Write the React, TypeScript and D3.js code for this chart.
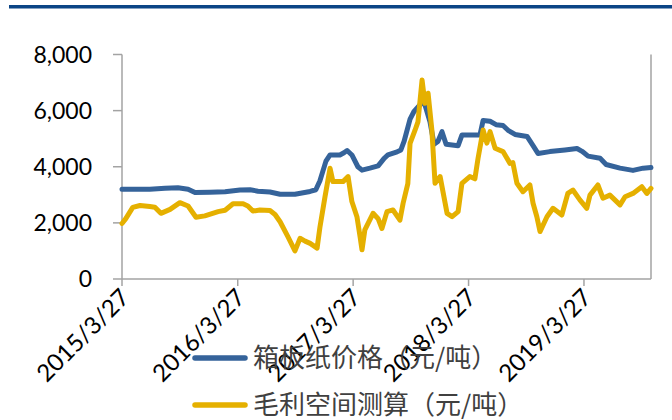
import React from "react";
import * as d3 from "d3";

// 箱板纸价格（元/吨）
const priceDates = [
  "2015-03-27", "2015-06-23", "2015-08-10", "2015-09-20", "2015-10-22", "2015-11-13",
  "2015-12-30", "2016-02-16", "2016-04-03", "2016-05-05", "2016-05-30", "2016-07-07",
  "2016-08-08", "2016-09-24", "2016-11-11", "2016-11-29", "2016-12-12", "2016-12-31",
  "2017-01-13", "2017-02-13", "2017-02-26", "2017-03-08", "2017-03-23", "2017-04-11",
  "2017-04-24", "2017-05-19", "2017-06-14", "2017-07-03", "2017-07-15", "2017-08-13",
  "2017-08-25", "2017-09-04", "2017-09-23", "2017-10-05", "2017-10-24", "2017-11-06",
  "2017-11-25", "2017-12-08", "2017-12-20", "2018-01-02", "2018-01-15", "2018-02-22",
  "2018-03-06", "2018-05-02", "2018-05-12", "2018-06-03", "2018-06-22", "2018-07-14",
  "2018-07-30", "2018-08-21", "2018-09-28", "2018-10-17", "2018-11-02", "2018-12-09",
  "2019-01-26", "2019-03-05", "2019-03-21", "2019-04-09", "2019-05-17", "2019-06-05",
  "2019-07-19", "2019-08-29", "2019-09-30", "2019-10-25",
];
const priceValues = [
  3200, 3200, 3230, 3250, 3200, 3080,
  3090, 3110, 3170, 3180, 3130, 3100,
  3020, 3020, 3120, 3180, 3500, 4200,
  4420, 4420, 4500, 4580, 4420, 4000,
  3880, 3950, 4030, 4300, 4420, 4530,
  4600, 4900, 5700, 5960, 6200, 6320,
  5600, 4800, 4900, 5250, 4800, 4750,
  5130, 5130, 5650, 5620, 5500, 5470,
  5300, 5150, 5080, 4750, 4470, 4540,
  4600, 4650, 4550, 4380, 4300, 4080,
  3950, 3870, 3950, 3970,
];

// 毛利空间测算（元/吨）
const marginDates = [
  "2015-03-27", "2015-04-08", "2015-04-30", "2015-05-23", "2015-06-23", "2015-07-09",
  "2015-07-28", "2015-08-26", "2015-09-26", "2015-10-22", "2015-11-16", "2015-12-14",
  "2016-01-25", "2016-02-16", "2016-03-12", "2016-04-13", "2016-04-28", "2016-05-14",
  "2016-06-05", "2016-07-07", "2016-07-23", "2016-08-08", "2016-09-02", "2016-09-24",
  "2016-10-10", "2016-10-26", "2016-11-11", "2016-12-03", "2016-12-12", "2016-12-28",
  "2017-01-13", "2017-01-22", "2017-02-23", "2017-03-11", "2017-03-23", "2017-04-08",
  "2017-04-18", "2017-04-24", "2017-05-03", "2017-05-29", "2017-06-14", "2017-06-26",
  "2017-07-12", "2017-07-31", "2017-08-22", "2017-09-01", "2017-09-16", "2017-09-23",
  "2017-10-09", "2017-10-18", "2017-10-31", "2017-11-09", "2017-11-19", "2017-12-01",
  "2017-12-11", "2017-12-27", "2018-01-18", "2018-02-03", "2018-02-22", "2018-03-06",
  "2018-03-31", "2018-04-16", "2018-04-26", "2018-05-12", "2018-05-24", "2018-06-03",
  "2018-06-19", "2018-07-14", "2018-08-05", "2018-08-14", "2018-08-27", "2018-09-15",
  "2018-10-07", "2018-10-17", "2018-10-29", "2018-11-08", "2018-11-30", "2018-12-19",
  "2019-01-16", "2019-02-04", "2019-02-20", "2019-03-14", "2019-04-05", "2019-04-15",
  "2019-05-10", "2019-05-26", "2019-06-17", "2019-07-19", "2019-08-04", "2019-08-29",
  "2019-09-26", "2019-10-12", "2019-10-25",
];
const marginValues = [
  1980, 2150, 2550, 2620, 2580, 2560,
  2340, 2480, 2720, 2600, 2200, 2250,
  2400, 2450, 2680, 2680, 2600, 2420,
  2460, 2440, 2300, 2040, 1500, 1000,
  1450, 1350, 1270, 1100, 1850, 2930,
  3950, 3470, 3470, 3650, 2760, 2220,
  1500, 1040, 1750, 2340, 2150, 1800,
  2400, 2460, 2100, 2700, 3400, 4830,
  5310, 5600, 7090, 6260, 6620, 5310,
  3410, 3650, 2340, 2220, 2400, 3410,
  3650, 3570, 4300, 5310, 4840, 5250,
  4660, 4540, 4120, 4150, 3410, 3110,
  3350, 2700, 2220, 1690, 2220, 2520,
  2280, 3050, 3170, 2820, 2520, 2990,
  3350, 2880, 2990, 2640, 2930, 3050,
  3290, 3050, 3230,
];

const yTicks = [0, 2000, 4000, 6000, 8000];
const xTickLabels = ["2015/3/27", "2016/3/27", "2017/3/27", "2018/3/27", "2019/3/27"];
const seriesNames = ["箱板纸价格（元/吨）", "毛利空间测算（元/吨）"];

const W = 672;
const H = 420;
const plot = { left: 122, right: 651, top: 54.5, bottom: 279 };
const axisColor = "#a3a3a3";
const blue = "#35639a";
const gold = "#e5b000";

const parse = d3.timeParse("%Y-%m-%d");
const parseTick = d3.timeParse("%Y/%m/%d");

export default function App() {
  const x = d3
    .scaleTime()
    .domain([parse("2015-03-27")!, parse("2019-10-25")!])
    .range([plot.left, plot.right]);
  const y = d3.scaleLinear().domain([0, 8000]).range([plot.bottom, plot.top]);

  const line = d3
    .line<[Date, number]>()
    .x((d) => x(d[0]))
    .y((d) => y(d[1]));

  const pricePts: [Date, number][] = priceDates.map((d, i) => [parse(d)!, priceValues[i]]);
  const marginPts: [Date, number][] = marginDates.map((d, i) => [parse(d)!, marginValues[i]]);

  const fmt = d3.format(",");
  const tickFont = "Lato, 'Liberation Sans', Arial, sans-serif";
  const cjkFont = "'Noto Sans CJK SC', 'Noto Sans', sans-serif";

  const legendColors = [blue, gold];
  const legendY = [358, 405];

  return (
    <svg
      width={W}
      height={H}
      style={{ position: "absolute", left: 0, top: 0, background: "#fff" }}
    >
      <rect x={9} y={5} width={W - 9} height={3.5} fill="#0b4586" />

      {/* value axis */}
      <line x1={plot.left} x2={plot.left} y1={plot.top} y2={plot.bottom} stroke={axisColor} strokeWidth={1.5} />
      <line x1={plot.right} x2={plot.right} y1={plot.top} y2={plot.bottom} stroke={axisColor} strokeWidth={1.5} />
      {yTicks.map((t) => (
        <g key={t}>
          <line x1={plot.left - 9} x2={plot.left} y1={y(t)} y2={y(t)} stroke={axisColor} strokeWidth={1.5} />
          <text
            x={92}
            y={y(t)}
            dy="0.35em"
            textAnchor="end"
            fontFamily={tickFont}
            fontSize={23}
            fill="#000"
          >
            {fmt(t)}
          </text>
        </g>
      ))}

      {/* date axis */}
      <line x1={plot.left} x2={plot.right} y1={plot.bottom} y2={plot.bottom} stroke={axisColor} strokeWidth={1.5} />
      {xTickLabels.map((lbl) => {
        const tx = x(parseTick(lbl)!);
        return (
          <g key={lbl}>
            <line x1={tx} x2={tx} y1={plot.bottom} y2={plot.bottom + 7} stroke={axisColor} strokeWidth={1.5} />
            <text
              transform={`translate(${tx + 3},${plot.bottom + 14}) rotate(-45)`}
              textAnchor="end"
              dy="0.35em"
              fontFamily={tickFont}
              fontSize={24}
              fill="#000"
            >
              {lbl}
            </text>
          </g>
        );
      })}

      <path d={line(pricePts) ?? ""} fill="none" stroke={blue} strokeWidth={5} strokeLinejoin="round" strokeLinecap="round" />
      <path d={line(marginPts) ?? ""} fill="none" stroke={gold} strokeWidth={5} strokeLinejoin="round" strokeLinecap="round" />

      {/* legend */}
      {seriesNames.map((name, i) => (
        <g key={name}>
          <line x1={195} x2={245} y1={legendY[i]} y2={legendY[i]} stroke={legendColors[i]} strokeWidth={5.5} strokeLinecap="round" />
          <text x={253} y={legendY[i]} dy="0.35em" fontFamily={cjkFont} fontSize={26} fill="#404040">
            {name}
          </text>
        </g>
      ))}
    </svg>
  );
}
